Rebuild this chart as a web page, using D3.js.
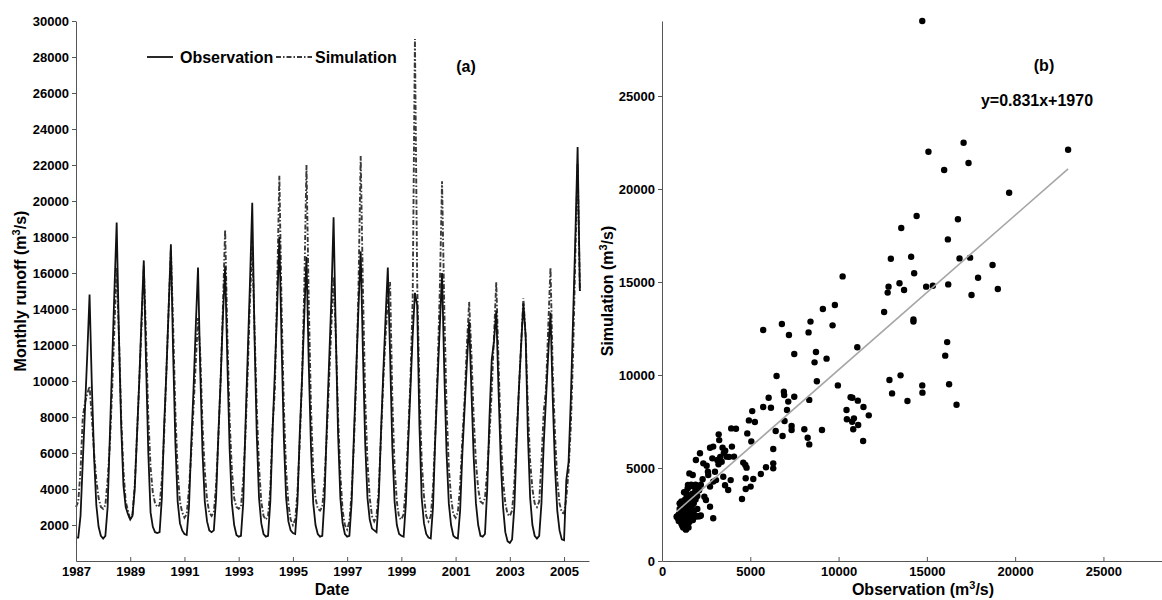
<!DOCTYPE html>
<html>
<head>
<meta charset="utf-8">
<script src="https://cdn.jsdelivr.net/npm/d3@7"></script>
<style>
  body { margin: 0; background: #fff; }
  text { font-family: "Liberation Sans", Arial, sans-serif; font-weight: bold; fill: #000; }
</style>
</head>
<body>
<div id="chart"></div>
<script>
// ---- data ----
var years = [1987,1988,1989,1990,1991,1992,1993,1994,1995,1996,1997,1998,1999,2000,2001,2002,2003,2004,2005];

// monthly observed runoff (m3/s), one row per year
var observed = [
  [1300,1300,2500,5500,8500,11500,14800,9800,5800,3100,1900,1400],
  [1250,1400,3000,7000,11000,15000,18800,12500,7500,4200,3000,2600],
  [2300,2500,4000,7000,10000,13500,16700,11000,6000,2700,1900,1600],
  [1550,1600,3500,7500,10500,14000,17600,11500,6500,3300,2100,1700],
  [1500,1450,3000,6500,9500,13000,16300,10500,6000,3300,2200,1700],
  [1600,1700,3500,7000,10000,13500,16350,11000,6200,3200,2000,1450],
  [1350,1400,3200,7500,11500,15500,19900,12500,7000,3500,2100,1500],
  [1350,1400,3300,7200,10500,14000,18000,12000,6800,3500,2200,1700],
  [1550,1500,3200,7000,10000,13500,16900,11000,6300,3200,2000,1500],
  [1350,1400,3500,7500,11000,14500,19100,12500,7000,3500,2100,1500],
  [1350,1400,3300,7000,10500,14000,17200,11500,6500,3500,2300,1800],
  [1700,1600,3500,7200,10500,13500,16300,11500,6300,3300,2000,1500],
  [1400,1350,3200,6500,9500,12500,14900,14200,7500,3500,2100,1500],
  [1300,1250,3000,6800,10000,13000,16000,10500,6000,3200,2000,1400],
  [1300,1250,2800,6000,8500,11000,13300,9500,5800,3200,2000,1400],
  [1350,1500,4000,8000,11200,12200,13900,9500,5500,3000,1600,1100],
  [1000,1200,3000,6500,9500,12000,14300,12500,7000,3500,2000,1400],
  [1250,1400,3200,6500,9000,11500,13800,9000,5200,2800,1700,1200],
  [1150,4500,5500,9000,13500,18000,23000,15000]
];

// monthly simulated runoff (m3/s), one row per year
var simulated = [
  [3000,3300,5000,8000,8800,9300,9700,8000,6000,4500,3500,3000],
  [2900,3100,4500,6500,9500,13000,16300,12500,8000,5000,3300,2800],
  [2300,2600,4200,7000,10000,13000,16400,12500,8000,5200,3800,3200],
  [3000,3100,4500,7000,10500,14000,17300,13000,8200,5000,3300,2700],
  [2400,2600,4000,6000,8500,11000,13500,11500,7500,5000,3400,2700],
  [2500,2700,4200,6800,10000,14000,18400,12500,7800,5000,3500,3000],
  [2900,3000,4500,7000,10500,14500,17500,13000,8500,5200,3300,2500],
  [2300,2500,4000,7500,9500,15000,21400,14000,8500,5000,3200,2300],
  [2000,2300,3800,6500,10000,15000,22000,14500,8500,5000,3500,2900],
  [2800,3000,4500,7000,10000,13000,15800,12500,8000,4800,2800,2000],
  [1750,2200,3800,6500,10000,15000,22500,15000,9000,5500,3500,2500],
  [2200,2500,4000,7000,10000,12500,14500,15500,9000,5200,3300,2400],
  [2300,2600,4200,7000,10000,14500,29000,15500,9500,5500,3600,2500],
  [2200,2500,4000,7000,10500,15000,21100,14000,8500,5200,3500,2600],
  [2400,2700,4200,6800,9000,12000,14400,11500,8000,5500,4000,3300],
  [3200,3500,5000,7000,9500,12500,15500,11000,7000,4500,3200,2600],
  [2500,2800,4300,7000,9500,12000,14600,12500,8500,5500,4000,3200],
  [3000,3300,5500,8300,9500,13000,16300,10500,7000,4500,3200,2700],
  [2650,3500,5000,7500,11500,17000,22100,15000]
];

// scatter pairs
var scatterObs = [
  14740,15090,17080,17360,15980,23000,19660,14420,16760,13550,16190,12960,14110,16850,17450,18720,14280,17900,
  12830,12780,13450,13710,14960,15340,16210,17530,19020,10230,
  12580,14240,14240,16150,16040,12880,13510,14740,14750,16260,13030,13900,16680,11410,11710,11390,
  9790,9110,8410,6790,9660,5730,8300,7190,11060,8720,9320,7490,8640,6490,8770,9960,6900,6920,7490,6040,
  8340,10680,10780,11090,7150,5730,6170,5110,7080,10450,4920,5260,6940,10470,10770,10870,7340,7340,11110,
  10830,8060,9060,6440,6830,8250,8340,3920,4190,3210,3240,4830,5060,3960,2720,2900,3430,3580,2150,3660,
  4080,6300,2850,3130,1920,2340,2530,3380,4600,4720,4790,6300,6300,5890,5600,5170,5020,4740,4740,4530,
  3470,3570,3750,3890,3060,2900,2620,2720,2400,2490,2720,2900,1550,1740,1470,1960,1830,1360,1020,830,
  2150,1960,1300,1360,3300,3500,3200,3800,2600,2300,2200,3000,
  850,900,950,1000,1050,1100,1150,1200,1250,1300,1350,1400,1450,1500,1550,1600,1700,1800,1900,2000,2100,2200,
  1000,1100,1200,1300,1400,1500,1600,1700,1200,1300,1400,1500,1600,1700,1800,1900,2000,1100,1000,1250,1450,
  1550,1650,1800,1900,2100,1350,1450,1150,1250,1350,1550,1650,1750,1300,1400,1200,1050,950,1600,1800,2000,
  1700,1900,1250,1500,1350,1450,1600
];
var scatterSim = [
  29030,22000,22490,21400,21020,22110,19800,18550,18370,17900,17290,16250,16360,16270,16310,15910,15470,15230,
  14750,14430,14930,14570,14750,14800,14870,14300,14620,15300,
  13390,12990,12870,11770,11040,9730,9980,9440,9050,9500,9010,8600,8400,8280,7830,6450,
  13760,13550,12870,12740,12670,12420,12290,12150,11490,11240,10880,11130,10680,9950,9660,9440,9100,8920,8830,8780,
  8660,8800,8780,8620,8570,8280,8240,8060,8120,8120,7560,7470,7530,7620,7490,7670,7260,7040,7310,
  7080,7080,7040,6990,6720,6630,6270,7130,7110,6810,6500,6860,6430,6150,6090,6150,6090,5930,5790,5610,
  5610,6020,5520,5430,5430,5250,5120,5340,5290,5160,5020,5250,4980,5040,4680,4410,4000,4450,3870,3330,
  4530,4070,3820,4350,4350,4270,4620,4000,3460,3280,2920,2300,4710,4620,4090,4000,3640,3670,3100,2380,
  2420,2400,1850,1700,5600,5800,5200,5600,4800,4400,4100,4800,
  2400,2300,2500,2200,2600,2000,1900,1800,2100,1850,1750,2000,2200,2400,2300,2500,2400,2350,2450,2400,2400,2450,
  2800,2700,2600,2500,2700,2800,2900,3000,3100,3300,3500,3200,3400,3600,3100,3300,3500,3200,3100,3700,3900,
  4000,4100,4000,4100,3800,2900,2500,2300,2400,2200,2100,2200,2200,2000,1900,2200,2350,2150,2650,2700,2800,
  3300,3800,1950,1800,1700,3000,3100
];

// fitted line shown in panel (b)
var fitSlope = 0.831, fitIntercept = 1970;

var yearTicks = [1987,1989,1991,1993,1995,1997,1999,2001,2003,2005];
var runoffTicks = [2000,4000,6000,8000,10000,12000,14000,16000,18000,20000,22000,24000,26000,28000,30000];
var scatterTicks = [0,5000,10000,15000,20000,25000];

// ---- svg ----
var svg = d3.select("#chart").append("svg")
    .attr("width", 1162)
    .attr("height", 600);

// ---- panel (a) ----
var xL = d3.scaleLinear().domain([1987, 2005.92]).range([76, 589]);
var yL = d3.scaleLinear().domain([0, 30000]).range([561, 21]);

var obsSeries = [], simSeries = [];
years.forEach(function(y, i) {
  observed[i].forEach(function(v, m) { obsSeries.push({t: y + m / 12, v: v}); });
  simulated[i].forEach(function(v, m) { simSeries.push({t: y + m / 12, v: v}); });
});

var lineL = d3.line().x(d => xL(d.t)).y(d => yL(d.v));

svg.append("path")
    .datum(simSeries)
    .attr("d", lineL)
    .attr("fill", "none")
    .attr("stroke", "#3a3a3a")
    .attr("stroke-width", 1.9)
    .attr("stroke-dasharray", "5,2,1.5,2");

svg.append("path")
    .datum(obsSeries)
    .attr("d", lineL)
    .attr("fill", "none")
    .attr("stroke", "#111")
    .attr("stroke-width", 1.8);

var axL_x = svg.append("g")
    .attr("transform", "translate(0,561)")
    .call(d3.axisBottom(xL).tickValues(yearTicks).tickFormat(d3.format("d"))
      .tickSizeInner(-4).tickSizeOuter(0).tickPadding(6));
var axL_y = svg.append("g")
    .attr("transform", "translate(76,0)")
    .call(d3.axisLeft(yL).tickValues(runoffTicks).tickFormat(d3.format("d"))
      .tickSizeInner(4).tickSizeOuter(0).tickPadding(3));

// legend
svg.append("line").attr("x1", 147).attr("x2", 173).attr("y1", 57).attr("y2", 57)
    .attr("stroke", "#111").attr("stroke-width", 1.8);
svg.append("text").attr("x", 180).attr("y", 63).style("font-size", "16px").text("Observation");
svg.append("line").attr("x1", 276).attr("x2", 312).attr("y1", 57).attr("y2", 57)
    .attr("stroke", "#3a3a3a").attr("stroke-width", 1.9).attr("stroke-dasharray", "5,2,1.5,2");
svg.append("text").attr("x", 315).attr("y", 63).style("font-size", "16px").text("Simulation");

svg.append("text").attr("x", 466).attr("y", 72).attr("text-anchor", "middle")
    .style("font-size", "16px").text("(a)");

svg.append("text").attr("x", 332).attr("y", 595).attr("text-anchor", "middle")
    .style("font-size", "16px").text("Date");

var tY = svg.append("text")
    .attr("transform", "translate(26,291) rotate(-90)")
    .attr("text-anchor", "middle")
    .style("font-size", "16px");
tY.append("tspan").text("Monthly runoff (m");
tY.append("tspan").attr("dy", -6).style("font-size", "11px").text("3");
tY.append("tspan").attr("dy", 6).text("/s)");

// ---- panel (b) ----
var xR = d3.scaleLinear().domain([0, 28600]).range([662, 1167]);
var yR = d3.scaleLinear().domain([0, 29032]).range([561, 21]);

var pts = scatterObs.map(function(o, i) { return {o: o, s: scatterSim[i]}; });

svg.append("g").selectAll("circle")
    .data(pts)
    .enter()
    .append("circle")
    .attr("cx", d => xR(d.o))
    .attr("cy", d => yR(d.s))
    .attr("r", 3.2)
    .attr("fill", "#000");

var fitX = d3.extent(scatterObs);
svg.append("line")
    .attr("x1", xR(fitX[0])).attr("y1", yR(fitSlope * fitX[0] + fitIntercept))
    .attr("x2", xR(fitX[1])).attr("y2", yR(fitSlope * fitX[1] + fitIntercept))
    .attr("stroke", "#a6a6a6")
    .attr("stroke-width", 1.6);

var axR_x = svg.append("g")
    .attr("transform", "translate(0,561)")
    .call(d3.axisBottom(xR).tickValues(scatterTicks).tickFormat(d3.format("d"))
      .tickSizeInner(-4).tickSizeOuter(0).tickPadding(6));
var axR_y = svg.append("g")
    .attr("transform", "translate(662,0)")
    .call(d3.axisLeft(yR).tickValues(scatterTicks).tickFormat(d3.format("d"))
      .tickSizeInner(4).tickSizeOuter(0).tickPadding(3));

svg.append("text").attr("x", 1044).attr("y", 71).attr("text-anchor", "middle")
    .style("font-size", "16px").text("(b)");
svg.append("text").attr("x", 1037).attr("y", 106).attr("text-anchor", "middle")
    .style("font-size", "16px").text("y=0.831x+1970");

var tX = svg.append("text")
    .attr("x", 923).attr("y", 595)
    .attr("text-anchor", "middle")
    .style("font-size", "16px");
tX.append("tspan").text("Observation (m");
tX.append("tspan").attr("dy", -6).style("font-size", "11px").text("3");
tX.append("tspan").attr("dy", 6).text("/s)");

var tY2 = svg.append("text")
    .attr("transform", "translate(613,291) rotate(-90)")
    .attr("text-anchor", "middle")
    .style("font-size", "16px");
tY2.append("tspan").text("Simulation (m");
tY2.append("tspan").attr("dy", -6).style("font-size", "11px").text("3");
tY2.append("tspan").attr("dy", 6).text("/s)");

// axis styling
svg.selectAll(".domain, .tick line").attr("stroke", "#555");
svg.selectAll(".tick text")
    .style("font-size", "13px")
    .style("font-family", "'Liberation Sans', Arial, sans-serif")
    .style("font-weight", "bold")
    .attr("fill", "#000");
</script>
</body>
</html>
